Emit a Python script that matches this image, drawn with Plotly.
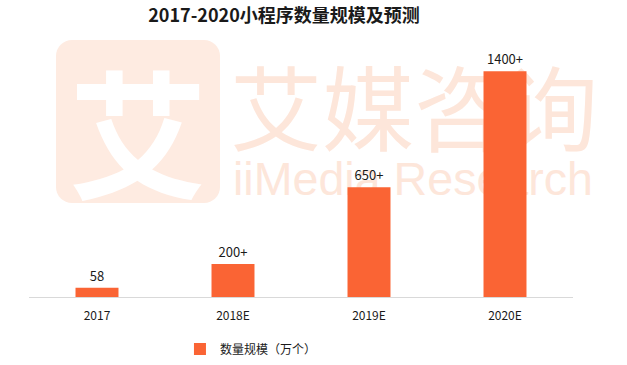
import base64
import plotly.graph_objects as go

categories = ["2017", "2018E", "2019E", "2020E"]
values = [58, 205, 680, 1400]
value_labels = ["58", "200+", "650+", "1400+"]
series_name = "数量规模（万个）"
title_text = "2017-2020小程序数量规模及预测"

FONT = "Noto Sans CJK SC, Noto Sans, sans-serif"
BAR = "#FA6434"
WM = "#FDE6DA"

W, H = 627, 365
L, R, T, B = 29, 54, 39, 68
PW, PH = W - L - R, H - T - B

# decorative watermark drawn as a background image
svg = f'''<svg xmlns="http://www.w3.org/2000/svg" width="{W}" height="{H}" viewBox="0 0 {W} {H}">
<rect x="56" y="40" width="164" height="163" rx="16" fill="#FEEBE1"/>
<text x="138" y="128" text-anchor="middle" dominant-baseline="central" font-family="Noto Sans CJK SC" font-weight="bold" font-size="138" fill="#ffffff">艾</text>
<text x="414" y="103" text-anchor="middle" dominant-baseline="central" font-family="Noto Sans CJK SC" font-size="92" textLength="368" lengthAdjust="spacingAndGlyphs" fill="{WM}">艾媒咨询</text>
<text x="413" y="195" text-anchor="middle" font-family="Liberation Sans, Arial" font-size="46" textLength="360" lengthAdjust="spacingAndGlyphs" fill="{WM}">iiMedia Research</text>
</svg>'''
svg_uri = "data:image/svg+xml;base64," + base64.b64encode(svg.encode("utf-8")).decode()

fig = go.Figure()
fig.add_trace(go.Bar(
    x=categories, y=values, name=series_name,
    marker=dict(color=BAR, line=dict(width=0)),
    text=value_labels, textposition="outside",
    textfont=dict(family=FONT, size=13, color="#1a1a1a"),
    cliponaxis=False,
))

fig.add_layout_image(dict(
    source=svg_uri, xref="paper", yref="paper",
    x=-L / PW, y=1 + T / PH, sizex=W / PW, sizey=H / PH,
    xanchor="left", yanchor="top", sizing="stretch", layer="below",
))

fig.update_layout(
    width=W, height=H,
    margin=dict(l=L, r=R, t=T, b=B, autoexpand=False),
    paper_bgcolor="white", plot_bgcolor="rgba(0,0,0,0)",
    title=dict(text="<b>" + title_text + "</b>", x=284 / W, xanchor="center",
               y=1 - 16 / H, yanchor="middle",
               font=dict(family=FONT, size=18, color="#1a1a1a")),
    bargap=0.684,
    showlegend=True,
    legend=dict(orientation="h", x=174 / W, xanchor="left",
                y=-(349 - 297) / PH, yanchor="middle",
                font=dict(family=FONT, size=12, color="#1a1a1a"),
                itemwidth=30),
    xaxis=dict(showline=True, linecolor="#D9D9D9", linewidth=1, showgrid=False,
               ticks="", automargin=False,
               tickfont=dict(family=FONT, size=12, color="#1a1a1a"),
               ticklabelstandoff=8),
    yaxis=dict(range=[0, 1600], visible=False, automargin=False),
)

fig.write_html("out.html", config={"displayModeBar": False},
               post_script="document.body.style.margin='0';document.body.style.padding='0';")
